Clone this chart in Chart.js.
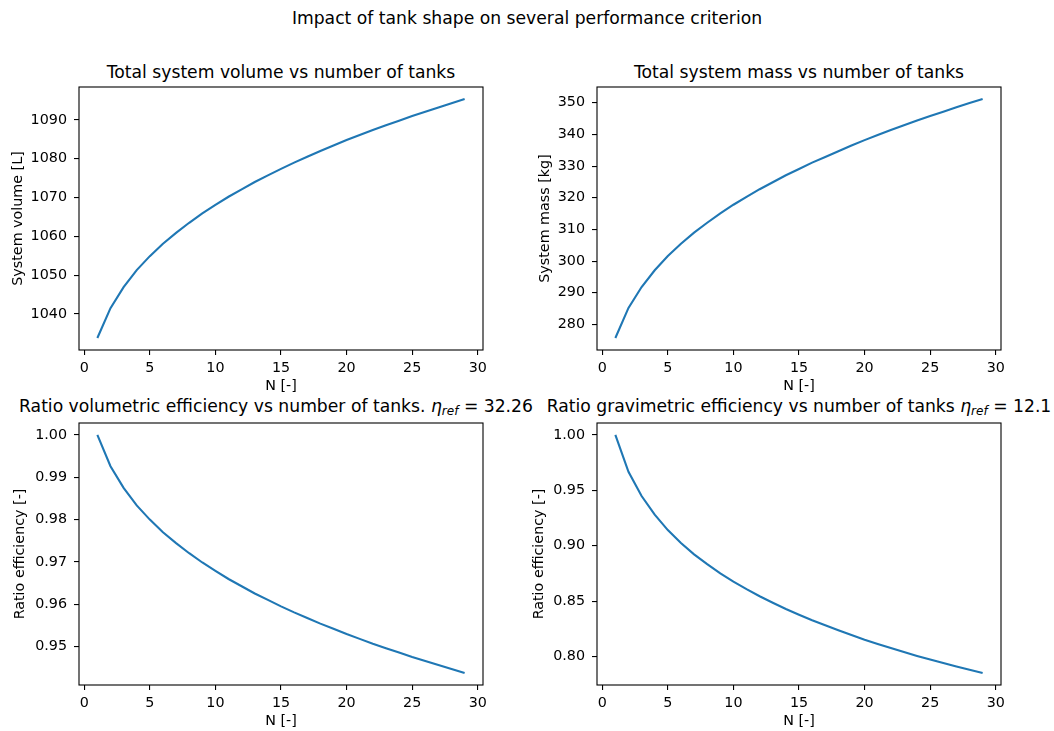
<!DOCTYPE html>
<html>
<head>
<meta charset="utf-8">
<script src="https://cdn.jsdelivr.net/npm/chart.js@4.4.1/dist/chart.umd.min.js"></script>
<style>
  html, body {
    margin: 0;
    padding: 0;
    background: #fff;
  }
  body {
    position: relative;
    width: 1054px;
    height: 731px;
    overflow: hidden;
    font-family: "DejaVu Sans", sans-serif;
    color: #000;
  }
  canvas {
    position: absolute;
  }
  .heading {
    position: absolute;
    width: 640px;
    text-align: center;
    white-space: nowrap;
    font-size: 17.2px;
    line-height: 1;
  }
  .eta {
    font-style: italic;
  }
  .eta sub {
    font-size: 70%;
    vertical-align: baseline;
    position: relative;
    top: 0.22em;
  }
</style>
</head>
<body>
<div class="heading" style="left:207px; top:10px;">Impact of tank shape on several performance criterion</div>
<div class="heading" style="left:-39px; top:64px;">Total system volume vs number of tanks</div>
<div class="heading" style="left:479px; top:64px;">Total system mass vs number of tanks</div>
<div class="heading" style="left:-44px; top:398px;">Ratio volumetric efficiency vs number of tanks. <span class="eta">η<sub>ref</sub></span> = 32.26</div>
<div class="heading" style="left:479px; top:398px;">Ratio gravimetric efficiency vs number of tanks <span class="eta">η<sub>ref</sub></span> = 12.1</div>

<canvas id="volumeChart"></canvas>
<canvas id="massChart"></canvas>
<canvas id="volRatioChart"></canvas>
<canvas id="gravRatioChart"></canvas>

<script>
// Number of tanks
const tankCounts = [1, 2, 3, 4, 5, 6, 7, 8, 9, 10, 11, 12, 13, 14, 15, 16, 17, 18, 19, 20, 21, 22, 23, 24, 25, 26, 27, 28, 29];

// Total system volume [L]
const systemVolume = [1033.8, 1041.5, 1046.9, 1051.3, 1054.9, 1058.1, 1060.9, 1063.5, 1065.9, 1068.1,
  1070.2, 1072.1, 1074.0, 1075.7, 1077.4, 1079.0, 1080.5, 1082.0, 1083.4, 1084.8,
  1086.1, 1087.4, 1088.6, 1089.8, 1091.0, 1092.1, 1093.2, 1094.3, 1095.4];

// Total system mass [kg]
const systemMass = [275.7, 285.2, 291.8, 297.1, 301.6, 305.5, 309.0, 312.1, 315.1, 317.8,
  320.3, 322.7, 324.9, 327.1, 329.1, 331.1, 332.9, 334.7, 336.5, 338.2,
  339.8, 341.4, 342.9, 344.4, 345.8, 347.2, 348.6, 349.9, 351.2];

// Efficiency relative to the single tank case
const volumetricRatio = [1.0, 0.99261, 0.98749, 0.98335, 0.98000, 0.97703, 0.97446, 0.97207, 0.96988, 0.96789,
  0.96599, 0.96428, 0.96257, 0.96105, 0.95953, 0.95811, 0.95678, 0.95545, 0.95422, 0.95299,
  0.95185, 0.95071, 0.94966, 0.94862, 0.94757, 0.94662, 0.94567, 0.94472, 0.94377];

const gravimetricRatio = [1.0, 0.96669, 0.94483, 0.92797, 0.91412, 0.90245, 0.89223, 0.88337, 0.87496, 0.86753,
  0.86076, 0.85436, 0.84857, 0.84286, 0.83774, 0.83268, 0.82818, 0.82372, 0.81932, 0.81519,
  0.81136, 0.80756, 0.80402, 0.80052, 0.79728, 0.79406, 0.79088, 0.78794, 0.78502];

// Tick values
const nTicks = [0, 5, 10, 15, 20, 25, 30];
const volumeTicks = [1040, 1050, 1060, 1070, 1080, 1090];
const massTicks = [280, 290, 300, 310, 320, 330, 340, 350];
const volRatioTicks = [0.95, 0.96, 0.97, 0.98, 0.99, 1.0];
const gravRatioTicks = [0.8, 0.85, 0.9, 0.95, 1.0];

// Style
const FONT = "DejaVu Sans";
const FONT_SIZE = 14.3;
const LINE_COLOR = "#1f77b4";
const PAD_TOP = 20;
const PAD_RIGHT = 20;
const X_AXIS_HEIGHT = 45;

// Black box around each plot area
const framePlugin = {
  id: "frame",
  afterDraw(chart) {
    const { ctx, chartArea } = chart;
    ctx.save();
    ctx.strokeStyle = "#000";
    ctx.lineWidth = 1.1;
    ctx.strokeRect(
      chartArea.left,
      chartArea.top,
      chartArea.right - chartArea.left,
      chartArea.bottom - chartArea.top
    );
    ctx.restore();
  },
};

function tickAxis(min, max, tickValues, extra) {
  return {
    type: "linear",
    min: min,
    max: max,
    afterBuildTicks: (scale) => {
      scale.ticks = tickValues.map((v) => ({ value: v }));
    },
    grid: {
      drawOnChartArea: false,
      drawTicks: true,
      tickLength: 5,
      color: "#000",
      lineWidth: 1.1,
    },
    border: { display: false },
    ...extra,
  };
}

function makePanel(canvasId, layout, values, yRange, yTicks, decimals, yLabel) {
  const canvas = document.getElementById(canvasId);
  const width = layout.yAxisWidth + layout.plotWidth + PAD_RIGHT;
  const height = PAD_TOP + layout.plotHeight + X_AXIS_HEIGHT;
  canvas.width = width;
  canvas.height = height;
  canvas.style.left = layout.left + "px";
  canvas.style.top = layout.top - PAD_TOP + "px";
  canvas.style.width = width + "px";
  canvas.style.height = height + "px";

  const font = { family: FONT, size: FONT_SIZE };

  return new Chart(canvas.getContext("2d"), {
    type: "line",
    data: {
      datasets: [
        {
          data: tankCounts.map((n, i) => ({ x: n, y: values[i] })),
          borderColor: LINE_COLOR,
          borderWidth: 2.1,
          pointRadius: 0,
          tension: 0,
          fill: false,
        },
      ],
    },
    options: {
      responsive: false,
      animation: false,
      layout: { padding: { top: PAD_TOP, right: PAD_RIGHT, left: 0, bottom: 0 } },
      plugins: {
        legend: { display: false },
        tooltip: { enabled: false },
      },
      scales: {
        x: tickAxis(-0.4, 30.4, nTicks, {
          position: "bottom",
          ticks: {
            autoSkip: false,
            maxRotation: 0,
            padding: 5,
            color: "#000",
            font: font,
            callback: (v) => Number(v).toFixed(0),
          },
          title: { display: true, text: "N [-]", color: "#000", padding: 0, font: font },
          afterFit: (scale) => {
            scale.height = X_AXIS_HEIGHT;
          },
        }),
        y: tickAxis(yRange[0], yRange[1], yTicks, {
          position: "left",
          ticks: {
            autoSkip: false,
            padding: 7,
            color: "#000",
            font: font,
            callback: (v) => Number(v).toFixed(decimals),
          },
          title: { display: true, text: yLabel, color: "#000", padding: 0, font: font },
          afterFit: (scale) => {
            scale.width = layout.yAxisWidth;
          },
        }),
      },
    },
    plugins: [framePlugin],
  });
}

document.addEventListener("DOMContentLoaded", function () {
  makePanel(
    "volumeChart",
    { left: 10, top: 87, yAxisWidth: 69, plotWidth: 404, plotHeight: 263 },
    systemVolume, [1030.72, 1098.48], volumeTicks, 0, "System volume [L]"
  );
  makePanel(
    "massChart",
    { left: 537, top: 87, yAxisWidth: 60, plotWidth: 404, plotHeight: 263 },
    systemMass, [271.92, 354.98], massTicks, 0, "System mass [kg]"
  );
  makePanel(
    "volRatioChart",
    { left: 12, top: 423, yAxisWidth: 67, plotWidth: 404, plotHeight: 262 },
    volumetricRatio, [0.94096, 1.00281], volRatioTicks, 2, "Ratio efficiency [-]"
  );
  makePanel(
    "gravRatioChart",
    { left: 531, top: 423, yAxisWidth: 66, plotWidth: 404, plotHeight: 262 },
    gravimetricRatio, [0.77427, 1.01075], gravRatioTicks, 2, "Ratio efficiency [-]"
  );
});
</script>
</body>
</html>
